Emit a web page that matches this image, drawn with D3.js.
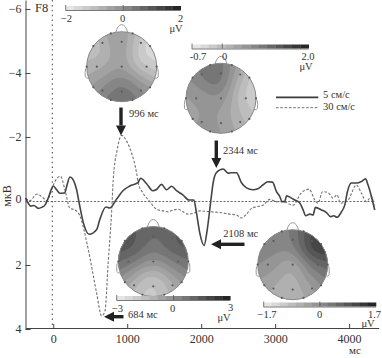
<!DOCTYPE html>
<html>
<head>
<meta charset="utf-8">
<script src="https://cdn.jsdelivr.net/npm/d3@7"></script>
<style>
  html, body { margin: 0; padding: 0; background: #fff; }
  svg { display: block; }
  text { font-family: "Liberation Serif", serif; fill: #333; }
</style>
</head>
<body>
<svg width="382" height="358"></svg>
<script>
// ======================= DATA ===============================
const solidMs = [-373,-338,-305,-261,-203,-157,-112,-68,0,46,91,158,181,226,270,316,351,405,486,586,631,712,766,857,942,1036,1144,1181,1262,1347,1397,1464,1532,1600,1667,1752,1837,1901,1937,1982,2040,2081,2127,2162,2207,2297,2364,2410,2478,2545,2613,2698,2766,2833,2901,2964,3018,3063,3094,3130,3153,3221,3265,3333,3378,3414,3468,3512,3545,3626,3694,3748,3792,3837,3896,3941,3977,4031,4099,4167,4221,4256,4302,4346];
const solidUv = [-0.09,0.07,0.16,0.14,0.23,0.20,0.13,-0.09,-0.47,-0.35,-0.24,-0.26,-0.45,-0.75,-0.66,-0.35,0.07,0.66,1.04,0.90,0.57,0.19,0.22,-0.06,-0.32,-0.47,-0.57,-0.71,-0.54,-0.32,-0.36,-0.52,-0.35,-0.46,-0.32,-0.19,-0.03,-0.03,0.38,1.01,1.39,0.91,0.06,-0.57,-0.89,-1.0,-0.87,-0.88,-0.88,-0.57,-0.41,-0.35,-0.38,-0.50,-0.60,-0.59,-0.29,-0.14,0.02,0.02,-0.16,-0.09,-0.03,0.06,0.28,0.46,0.41,0.44,0.20,0.28,0.36,0.49,0.46,0.51,0.34,0.13,-0.29,-0.56,-0.56,-0.61,-0.69,-0.50,-0.14,0.28];

const dashedMs = [-373,-315,-224,-157,-89,-45,23,100,158,226,293,361,473,586,654,698,743,789,811,865,924,992,1059,1127,1148,1216,1306,1397,1486,1554,1621,1689,1756,1824,1891,1982,2140,2252,2387,2478,2545,2613,2680,2748,2837,2928,3018,3107,3242,3356,3459,3536,3580,3640,3715,3783,3837,3883,3986,4099,4167,4234,4302,4346];
const dashedUv = [-0.09,-0.01,-0.21,-0.14,-0.01,-0.19,-0.61,-0.77,-0.35,0.23,0.28,0.47,1.51,2.87,3.59,3.46,1.92,0.35,-0.66,-1.61,-2.05,-1.87,-1.50,-0.87,-0.57,-0.24,0.02,0.26,0.31,0.34,0.28,0.26,0.34,0.41,0.39,0.31,0.34,0.36,0.41,0.44,0.53,0.41,0.23,0.18,0.13,-0.05,0.02,0.02,0.13,-0.26,-0.37,-0.03,0.07,-0.29,-0.26,-0.09,-0.19,0.07,-0.03,-0.50,-0.24,0.02,-0.14,0.28];

const xTicks = [0, 1000, 2000, 3000, 4000];
const yTicks = [-6, -4, -2, 0, 2, 4];
const legendLabels = ['5 см/с', '30 см/с'];

// electrode values per map, order: Fp1 Fp2 F7 F3 Fz F4 F8 T3 C3 Cz C4 T4 T5 P3 Pz P4 T6 O1 O2
const map996 = [-0.2,-0.6,-1.5,-0.9,0.2,-1.4,-2.2,-0.9,-0.5,-0.3,-1.0,-1.6,-0.4,0,0.4,0,-0.4,0.8,0.8];
const map2344 = [1.0,0.6,0.5,1.0,1.3,0.3,-0.6,0.3,0.6,0.6,0.1,-0.6,0.3,0.5,0.4,0.1,-0.1,0.7,0.4];
const map684 = [1.2,1.0,2.6,1.0,0.5,1.0,2.2,1.4,0.2,-0.1,0.2,1.2,0.2,-1.6,-2.3,-1.4,0.3,-2.0,-1.5];
const map2108 = [0.1,0.7,0.3,0.1,0,1.1,2.0,0.2,-0.2,-0.6,0.2,0.8,-0.3,-0.6,-0.7,-0.3,0.2,-0.6,-0.7];

// ======================= LAYOUT ===============================
const electrodes = [[-.31,-.95],[.31,-.95],[-.81,-.59],[-.55,-.68],[0,-.71],[.55,-.68],[.81,-.59],
    [-1,0],[-.71,0],[0,0],[.71,0],[1,0],[-.81,.59],[-.55,.68],[0,.71],[.55,.68],[.81,.59],[-.31,.95],[.31,.95]];

const heads = [
    { values: map996, cx: 121.7, cy: 66.7, lo: -2, hi: 2, bar: [65.7, 180.7, 6], labels: [['−2', 66.5, 22], ['0', 122.5, 22], ['2', 180.5, 22]], unit: [176, 32] },
    { values: map2344, cx: 221, cy: 98.3, lo: -0.7, hi: 2, bar: [192, 308.7, 44.5], labels: [['-0.7', 198, 60], ['0', 224.5, 60], ['2.0', 308, 60]], unit: [306, 70] },
    { values: map684, cx: 153.3, cy: 261.5, lo: -3, hi: 3, bar: [116.7, 230.3, 296], labels: [['−3', 117.5, 312], ['0', 172.5, 312], ['3', 230.5, 311]], unit: [224, 321] },
    { values: map2108, cx: 292.7, cy: 264.7, lo: -1.7, hi: 1.7, bar: [263.7, 376, 302.5], labels: [['−1.7', 267, 318], ['0', 319.7, 318], ['1.7', 374.5, 318]], unit: [368, 327] }
];

const svg = d3.select('svg');

// ======================= SCALES ===============================
const xScale = d3.scaleLinear().domain([-375, 4400]).range([25.5, 378.7]);
const yScale = d3.scaleLinear().domain([-6.28, 4]).range([0, 329]);

// ======================= REFERENCE LINES ===============================
svg.append('line')
    .attr('x1', xScale(-12)).attr('x2', xScale(-12))
    .attr('y1', 0).attr('y2', 328)
    .attr('stroke', '#666').attr('stroke-width', 1.2).attr('stroke-dasharray', '1.5,3.4');
svg.append('line')
    .attr('x1', 25.5).attr('x2', 375)
    .attr('y1', yScale(0) + 0.5).attr('y2', yScale(0) + 0.5)
    .attr('stroke', '#666').attr('stroke-width', 1).attr('stroke-dasharray', '2,1.6');

// ======================= CURVES ===============================
const lineGen = d3.line()
    .x(d => xScale(d[0]))
    .y(d => yScale(d[1]))
    .curve(d3.curveMonotoneX);

svg.append('path')
    .datum(d3.zip(dashedMs, dashedUv))
    .attr('d', lineGen)
    .attr('fill', 'none').attr('stroke', '#707070').attr('stroke-width', 1.1).attr('stroke-dasharray', '2.6,1.7');
svg.append('path')
    .datum(d3.zip(solidMs, solidUv))
    .attr('d', lineGen)
    .attr('fill', 'none').attr('stroke', '#444').attr('stroke-width', 1.6);

// ======================= AXES ===============================
const xAxis = svg.append('g')
    .attr('transform', 'translate(0, 328)')
    .call(d3.axisBottom(xScale).tickValues(xTicks).tickFormat(d3.format('d')).tickSizeInner(-4).tickSizeOuter(0).tickPadding(6));
const yAxis = svg.append('g')
    .attr('transform', 'translate(25.5, 0)')
    .call(d3.axisLeft(yScale).tickValues(yTicks).tickFormat(d => d < 0 ? '−' + (-d) : d).tickSizeInner(-5).tickSizeOuter(0).tickPadding(4));
yAxis.selectAll('.tick').filter(d => d === 0).select('line').remove();
yAxis.selectAll('.tick text').attr('dy', d => d === 0 ? '0.1em' : '0.32em');
[xAxis, yAxis].forEach(a => {
    a.selectAll('text').attr('font-size', 12).attr('font-family', '"Liberation Serif", serif');
    a.selectAll('line, path').attr('stroke', '#444');
});

svg.append('text').text('F8').attr('x', 35).attr('y', 12).attr('font-size', 12.5);
svg.append('text').text('мс').attr('x', 355).attr('y', 354).attr('font-size', 11).attr('text-anchor', 'middle');
svg.append('text').text('мкВ')
    .attr('transform', 'translate(11, 196) rotate(-90)')
    .attr('font-size', 12).attr('text-anchor', 'middle');

// ======================= HEAD MAPS ===============================
const greys = d3.scaleLinear().domain([0, 0.5, 1]).range(['#ececec', '#8e8e8e', '#1e1e1e']);
const r = 35;
const gridSize = 64;
const bands = 14;
const sigma = 0.36;    // kernel width, wide enough to keep the electrodes from showing as rings

heads.forEach((h, idx) => {
    const color = v => greys((v - h.lo) / (h.hi - h.lo));
    const g = svg.append('g');

    // ears and nose go under the scalp
    g.append('path')
        .attr('d', `M${h.cx - 6},${h.cy - r + 1} Q${h.cx - 4},${h.cy - r - 7} ${h.cx},${h.cy - r - 7} Q${h.cx + 4},${h.cy - r - 7} ${h.cx + 6},${h.cy - r + 1}`)
        .attr('fill', '#fff').attr('stroke', '#999').attr('stroke-width', 1);
    [-1, 1].forEach(s => {
        g.append('path')
            .attr('d', `M${h.cx + s * (r - 1)},${h.cy} q${s * 3},1 ${s * 2.6},6 l${-s * 0.2},4 q${-s * 0.6},2 ${-s * 3.4},1.5`)
            .attr('fill', '#fff').attr('stroke', '#999').attr('stroke-width', 1);
    });

    // spread the electrode values on a grid, contours give the stepped look
    const grid = new Array(gridSize * gridSize);
    for (let j = 0; j < gridSize; j++) {
        for (let i = 0; i < gridSize; i++) {
            const px = (i + 0.5) / gridSize * 2 - 1;
            const py = (j + 0.5) / gridSize * 2 - 1;
            let sw = 0, sv = 0;
            electrodes.forEach((e, k) => {
                const w = Math.exp(-((px - e[0]) ** 2 + (py - e[1]) ** 2) / (2 * sigma * sigma));
                sw += w;
                sv += w * h.values[k];
            });
            grid[j * gridSize + i] = sv / sw;
        }
    }
    const step = (h.hi - h.lo) / bands;
    const thresholds = d3.range(h.lo, h.hi + step, step);
    const contours = d3.contours().size([gridSize, gridSize]).thresholds(thresholds)(grid);
    const path = d3.geoPath(d3.geoIdentity().scale(2 * r / gridSize).translate([h.cx - r, h.cy - r]));

    const clipId = `scalp-${idx}`;
    g.append('clipPath').attr('id', clipId)
        .append('circle').attr('cx', h.cx).attr('cy', h.cy).attr('r', r);

    g.append('circle').attr('cx', h.cx).attr('cy', h.cy).attr('r', r)
        .attr('fill', color(d3.min(grid)));
    g.append('g').attr('clip-path', `url(#${clipId})`)
        .selectAll('path')
        .data(contours)
        .join('path')
        .attr('d', path)
        .attr('fill', d => color(d.value + step / 2));
    g.append('circle').attr('cx', h.cx).attr('cy', h.cy).attr('r', r)
        .attr('fill', 'none').attr('stroke', '#8a8a8a').attr('stroke-width', 1);

    g.selectAll('.dot')
        .data(electrodes)
        .join('circle')
        .attr('cx', d => h.cx + d[0] * r)
        .attr('cy', d => h.cy + d[1] * r)
        .attr('r', 1.1)
        .attr('fill', '#5a5a5a');

    // colour bar
    const [bx0, bx1, by] = h.bar;
    const barX = d3.scaleLinear().domain([0, bands]).range([bx0, bx1]);
    g.selectAll('.step')
        .data(d3.range(bands))
        .join('rect')
        .attr('x', d => barX(d))
        .attr('y', by)
        .attr('width', (bx1 - bx0) / bands + 0.3)
        .attr('height', 4)
        .attr('fill', d => greys((d + 0.5) / bands));
    g.append('path')
        .attr('d', `M${bx0},${by - 1}V${by + 4.5}H${bx1}`)
        .attr('fill', 'none').attr('stroke', '#555').attr('stroke-width', 0.8);
    const zeroX = bx0 + (0 - h.lo) / (h.hi - h.lo) * (bx1 - bx0);
    g.append('line').attr('x1', zeroX).attr('x2', zeroX).attr('y1', by - 1).attr('y2', by + 4)
        .attr('stroke', '#555').attr('stroke-width', 0.8);

    g.selectAll('.barlabel')
        .data(h.labels)
        .join('text')
        .text(d => d[0])
        .attr('x', d => d[1])
        .attr('y', d => d[2])
        .attr('text-anchor', 'middle')
        .attr('font-size', 10.5);
    g.append('text').text('μV')
        .attr('x', h.unit[0]).attr('y', h.unit[1])
        .attr('text-anchor', 'middle').attr('font-size', 10.5);
});

// ======================= ARROWS ===============================
const arrows = [
    { x1: 121, y1: 107.5, x2: 121, y2: 135.5, label: '996 мс', lx: 129, ly: 117 },
    { x1: 216.3, y1: 140.5, x2: 216.3, y2: 168, label: '2344 мс', lx: 223, ly: 153.5 },
    { x1: 123.5, y1: 316.7, x2: 104, y2: 316.7, label: '684 мс', lx: 128, ly: 318 },
    { x1: 244.5, y1: 244.3, x2: 211, y2: 244.3, label: '2108 мс', lx: 223.3, ly: 236.5 }
];
arrows.forEach(a => {
    const len = Math.hypot(a.x2 - a.x1, a.y2 - a.y1);
    const ux = (a.x2 - a.x1) / len, uy = (a.y2 - a.y1) / len;
    const bx = a.x2 - ux * 10, by = a.y2 - uy * 10;
    svg.append('line')
        .attr('x1', a.x1).attr('y1', a.y1).attr('x2', bx).attr('y2', by)
        .attr('stroke', '#222').attr('stroke-width', 3.4);
    svg.append('polygon')
        .attr('points', [[a.x2, a.y2], [bx - uy * 5, by + ux * 5], [bx + uy * 5, by - ux * 5]].join(' '))
        .attr('fill', '#222');
    svg.append('text').text(a.label)
        .attr('x', a.lx).attr('y', a.ly).attr('font-size', 10.5);
});

// ======================= LEGEND ===============================
svg.append('line').attr('x1', 276).attr('x2', 318.3).attr('y1', 97.3).attr('y2', 97.3)
    .attr('stroke', '#3a3a3a').attr('stroke-width', 1.8);
svg.append('line').attr('x1', 276).attr('x2', 318.3).attr('y1', 107.7).attr('y2', 107.7)
    .attr('stroke', '#707070').attr('stroke-width', 1).attr('stroke-dasharray', '2.6,1.7');
svg.selectAll('.legend')
    .data(legendLabels)
    .join('text')
    .text(d => d)
    .attr('x', 323)
    .attr('y', (d, i) => 98 + i * 12)
    .attr('font-size', 10.5);
</script>
</body>
</html>
